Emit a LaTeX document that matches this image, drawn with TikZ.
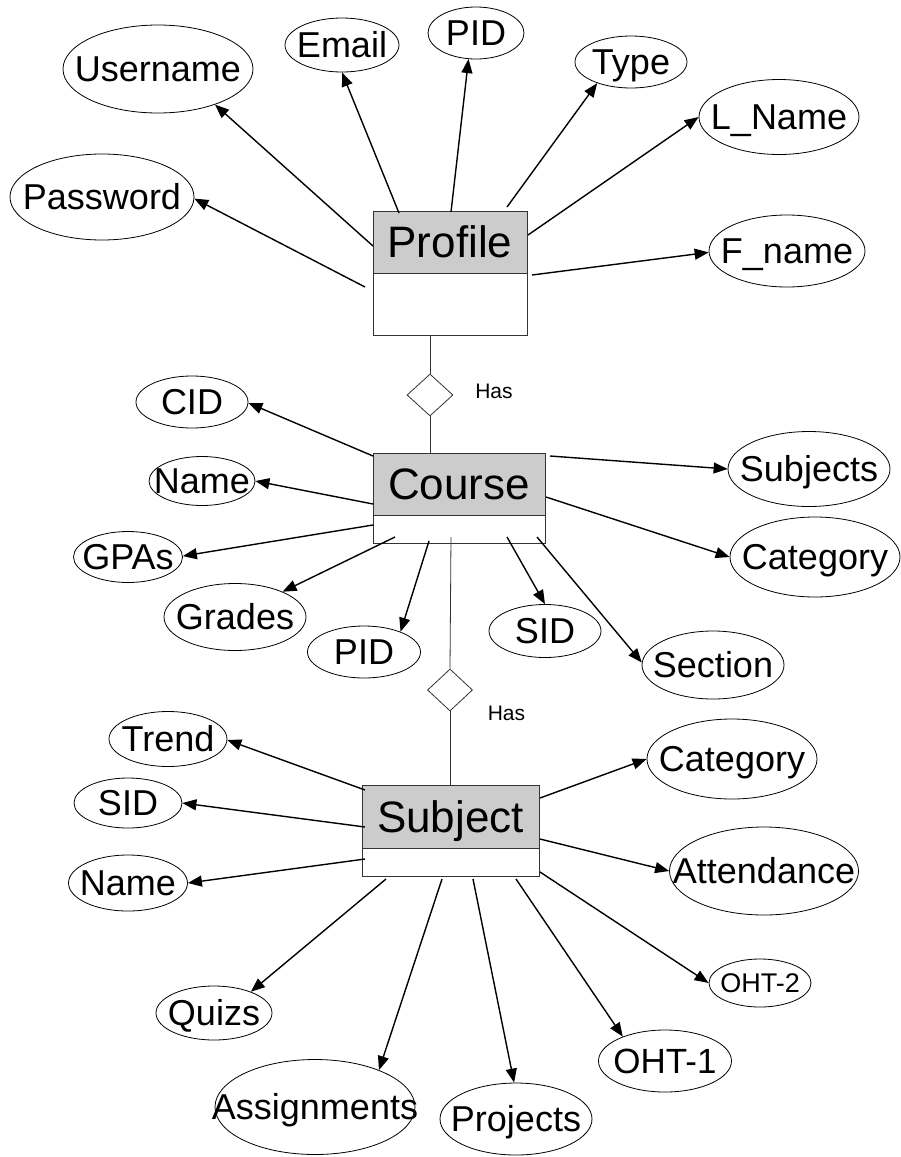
\documentclass[tikz,border=0pt]{standalone}
\usepackage{fontspec}
\setmainfont{Liberation Sans}
\usetikzlibrary{shapes.geometric,arrows.meta}
\definecolor{headgray}{RGB}{204,204,204}
% zero-width box so long words may overhang their ellipse
\newcommand\zwtext[1]{\makebox[0pt]{#1}}

\begin{document}
\begin{tikzpicture}[x=1pt,y=-1pt,
  attr/.style={ellipse, draw, line width=0.8pt, inner sep=0pt,
    font=\fontsize{36}{40}\selectfont, text height=25.8pt, text depth=0pt},
  smallattr/.style={attr, font=\fontsize{27}{30}\selectfont, text height=19.3pt},
  midattr/.style={attr, font=\fontsize{35}{38}\selectfont, text height=25pt},
  head/.style={rectangle, draw=black!80, line width=0.9pt, fill=headgray, inner sep=0pt,
    font=\fontsize{44}{48}\selectfont, text height=31.5pt, text depth=0pt},
  body/.style={rectangle, draw=black!80, line width=0.9pt, fill=white, inner sep=0pt},
  rel/.style={diamond, draw=black!80, line width=0.8pt, inner sep=0pt},
  link/.style={draw=black!80, line width=0.8pt},
  arr/.style={draw, line width=1.4pt, -{Triangle[length=14pt,width=11pt]}},
  haslabel/.style={font=\fontsize{21}{24}\selectfont, inner sep=0pt, text height=15pt, text depth=0pt}
]
\fill[white] (0,0) rectangle (901,1157);
\useasboundingbox (0,0) rectangle (901,1157);

% ---------- entities ----------
\node[head, minimum width=154pt, minimum height=62pt] (prof) at (450,242) {Profile};
\node[body, minimum width=154pt, minimum height=62pt, anchor=north] (profb) at (prof.south) {};

\node[head, minimum width=172pt, minimum height=62pt] (crs) at (459,484) {Course};
\node[body, minimum width=172pt, minimum height=28pt, anchor=north] (crsb) at (crs.south) {};

\node[head, minimum width=177pt, minimum height=63pt] (sub) at (450.5,816.5) {Subject};
\node[body, minimum width=177pt, minimum height=28pt, anchor=north] (subb) at (sub.south) {};

% ---------- relationships ----------
\node[rel, minimum width=46pt, minimum height=42pt] (has1) at (430,395) {};
\node[rel, minimum width=45pt, minimum height=42pt] (has2) at (450,690) {};
\node[haslabel] (has1t) at (494,391) {Has};
\node[haslabel] (has2t) at (506.5,713) {Has};

\coordinate (cLink) at (451,537);
\draw[link] (has1.north |- profb.south) -- (has1.north);
\draw[link] (has1.south) -- (has1.south |- crs.north);
\draw[link] (cLink) -- (has2.north);
\draw[link] (has2.south) -- (has2.south |- sub.north);

% ---------- Profile attributes ----------
\node[attr, minimum width=190pt, minimum height=88pt] (username) at (158,69) {\zwtext{Username}};
\node[attr, minimum width=114pt, minimum height=54pt] (email) at (342,45) {\zwtext{Email}};
\node[attr, minimum width=96pt, minimum height=52pt] (ppid) at (476,33) {\zwtext{PID}};
\node[attr, minimum width=112pt, minimum height=52pt] (type) at (631,62) {\zwtext{Type}};
\node[attr, minimum width=160pt, minimum height=75pt] (lname) at (779,117) {\zwtext{L\_Name}};
\node[attr, minimum width=156pt, minimum height=72pt] (fname) at (787,251) {\zwtext{F\_name}};
\node[attr, minimum width=184pt, minimum height=86pt] (password) at (102,197) {\zwtext{Password}};

% ---------- Course attributes ----------
\node[attr, minimum width=112pt, minimum height=52pt] (cid) at (192,402) {\zwtext{CID}};
\node[attr, minimum width=106pt, minimum height=49pt] (cname) at (202,481) {\zwtext{Name}};
\node[attr, minimum width=109pt, minimum height=51pt] (gpas) at (128,557) {\zwtext{GPAs}};
\node[attr, minimum width=142pt, minimum height=67pt] (grades) at (235,617) {\zwtext{Grades}};
\node[attr, minimum width=113pt, minimum height=52pt] (cpid) at (364,652) {\zwtext{PID}};
\node[attr, minimum width=162pt, minimum height=75pt] (subjects) at (809,469) {\zwtext{Subjects}};
\node[attr, minimum width=170pt, minimum height=80pt] (ccat) at (815,557) {\zwtext{Category}};
\node[attr, minimum width=112pt, minimum height=53pt] (csid) at (545,631) {\zwtext{SID}};
\node[attr, minimum width=142pt, minimum height=68pt] (section) at (713,665) {\zwtext{Section}};

% ---------- Subject attributes ----------
\node[attr, minimum width=118pt, minimum height=55pt] (trend) at (168,739) {\zwtext{Trend}};
\node[attr, minimum width=108pt, minimum height=50pt] (ssid) at (128,803) {\zwtext{SID}};
\node[attr, minimum width=119pt, minimum height=56pt] (sname) at (128,883) {\zwtext{Name}};
\node[attr, minimum width=116pt, minimum height=54pt] (quizs) at (214,1013) {\zwtext{Quizs}};
\node[attr, minimum width=200pt, minimum height=95pt] (assign) at (315,1107) {\zwtext{Assignments}};
\node[attr, minimum width=152pt, minimum height=72pt] (projects) at (516,1119) {\zwtext{Projects}};
\node[midattr, minimum width=133pt, minimum height=62pt] (oht1) at (665,1061) {\zwtext{OHT-1}};
\node[smallattr, minimum width=102pt, minimum height=48pt] (oht2) at (760,983) {\zwtext{OHT-2}};
\node[attr, minimum width=170pt, minimum height=80pt] (scat) at (732,759) {\zwtext{Category}};
\node[attr, minimum width=189pt, minimum height=88pt] (attend) at (764,871) {\zwtext{Attendance}};

% ---------- connector start points ----------
\coordinate (pUser) at (373,246);
\coordinate (pMail) at (399,213);
\coordinate (pPass) at (365,287);
\coordinate (pPid) at (451,212);
\coordinate (pType) at (507,207);
\coordinate (pLname) at (528,235);
\coordinate (pFname) at (532,275);

\coordinate (cCid) at (373,456);
\coordinate (cName) at (373,504);
\coordinate (cGpa) at (373,525);
\coordinate (cGrade) at (395,537);
\coordinate (cPid) at (429,541);
\coordinate (cSubj) at (550,456);
\coordinate (cCat) at (546,497);
\coordinate (cSid) at (507,537);
\coordinate (cSec) at (537,537);

\coordinate (sTrend) at (365,790);
\coordinate (sSid) at (365,827);
\coordinate (sName) at (365,859);
\coordinate (sQuiz) at (386,879);
\coordinate (sAssign) at (442,879);
\coordinate (sProj) at (473,879);
\coordinate (sOht1) at (516,879);
\coordinate (sOht2) at (540,872);
\coordinate (sCat) at (540,798);
\coordinate (sAtt) at (540,839);

% ---------- attribute arrows ----------
\draw[arr] (pUser) -- (username.-32);
\draw[arr] (pMail) -- (email.-90);
\draw[arr] (pPass) -- (password.-1);
\draw[arr] (pPid) -- (ppid.-106);
\draw[arr] (pType) -- (type.-148);
\draw[arr] (pLname) -- (lname.180);
\draw[arr] (pFname) -- (fname.-179);

\draw[arr] (cCid) -- (cid.-1);
\draw[arr] (cName) -- (cname.0);
\draw[arr] (cGpa) -- (gpas.1);
\draw[arr] (cGrade) -- (grades.28);
\draw[arr] (cPid) -- (cpid.29);
\draw[arr] (cSubj) -- (subjects.180);
\draw[arr] (cCat) -- (ccat.180);
\draw[arr] (cSid) -- (csid.90);
\draw[arr] (cSec) -- (section.178);

\draw[arr] (sTrend) -- (trend.-1);
\draw[arr] (sSid) -- (ssid.0);
\draw[arr] (sName) -- (sname.0);
\draw[arr] (sQuiz) -- (quizs.30);
\draw[arr] (sAssign) -- (assign.30);
\draw[arr] (sProj) -- (projects.93);
\draw[arr] (sOht1) -- (oht1.150);
\draw[arr] (sOht2) -- (oht2.180);
\draw[arr] (sCat) -- (scat.180);
\draw[arr] (sAtt) -- (attend.180);
\end{tikzpicture}
\end{document}
